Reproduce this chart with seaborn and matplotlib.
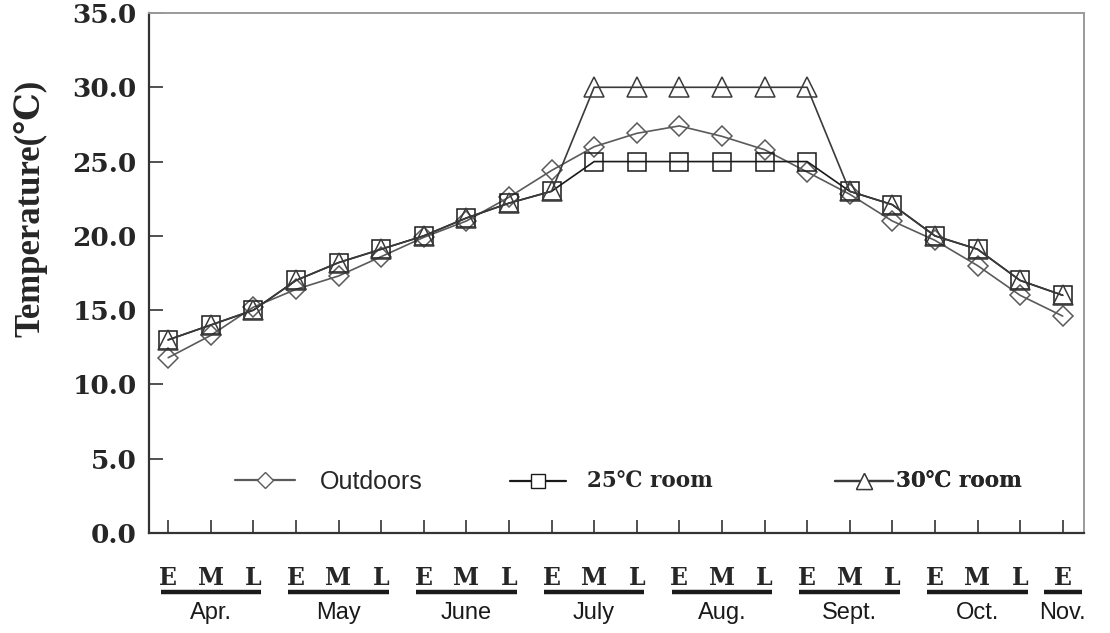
import matplotlib
matplotlib.use("Agg")
import matplotlib.pyplot as plt
import matplotlib.transforms as mtransforms
from matplotlib.lines import Line2D
import numpy as np
import pandas as pd
import seaborn as sns

# ---------------- data ----------------
period_labels = ["E", "M", "L"] * 7 + ["E"]
months = ["Apr.", "May", "June", "July", "Aug.", "Sept.", "Oct.", "Nov."]
month_counts = [3, 3, 3, 3, 3, 3, 3, 1]

outdoors = [11.8, 13.3, 15.2, 16.4, 17.3, 18.6, 19.9, 21.0, 22.6, 24.4, 26.0,
            26.9, 27.4, 26.7, 25.8, 24.3, 22.8, 21.0, 19.7, 18.0, 16.0, 14.6]
room25 = [13.0, 14.0, 15.0, 17.0, 18.2, 19.1, 20.0, 21.2, 22.2, 23.0, 25.0,
          25.0, 25.0, 25.0, 25.0, 25.0, 23.0, 22.1, 20.0, 19.1, 17.0, 16.0]
room30 = [13.0, 14.0, 15.0, 17.0, 18.2, 19.1, 20.0, 21.2, 22.2, 23.0, 30.0,
          30.0, 30.0, 30.0, 30.0, 30.0, 23.0, 22.1, 20.0, 19.1, 17.0, 16.0]
series_names = ["Outdoors", "25\u2103 room", "30\u2103 room"]
y_ticks = [0, 5, 10, 15, 20, 25, 30, 35]

# ---------------- style ----------------
sns.set_theme(style="white")
plt.rcParams["font.family"] = ["DejaVu Serif", "DejaVu Sans"]

SERIF_B = ["DejaVu Serif", "DejaVu Sans"]
SERIF_T = ["Liberation Serif", "DejaVu Serif", "DejaVu Sans"]
NARROW = ["Liberation Sans Narrow", "Liberation Sans", "DejaVu Sans"]

fig = plt.figure(figsize=(11.1, 6.33), dpi=100)
fig.patch.set_facecolor("white")
ax = fig.add_axes([149 / 1110, 1 - 533 / 633, (1084 - 149) / 1110, (533 - 13) / 633])
ax.set_facecolor("white")

x = np.arange(len(period_labels))
df = pd.DataFrame({"x": x, "Outdoors": outdoors, "r25": room25, "r30": room30})

styles = [
    ("Outdoors", "D", 10.5, "#5a5a5a", "#5a5a5a"),
    ("r25", "s", 12.5, "#1a1a1a", "#1a1a1a"),
    ("r30", "^", 15, "#3a3a3a", "#3a3a3a"),
]
for col, mk, ms, lc, mc in styles:
    sns.lineplot(data=df, x="x", y=col, ax=ax, color=lc, linewidth=1.2,
                 marker=mk, markersize=ms, markerfacecolor="none",
                 markeredgecolor=mc, markeredgewidth=1.1, clip_on=False)

ax.set_xlim(-0.45, len(x) - 0.5)
ax.set_ylim(0, 35)
ax.set_yticks(y_ticks)
ax.set_yticklabels([f"{v:.1f}" for v in y_ticks], fontfamily=SERIF_B,
                   fontweight="bold", fontsize=19)
ax.set_xticks(x)
ax.set_xticklabels(period_labels, fontfamily=SERIF_B, fontweight="bold", fontsize=17)
ax.tick_params(axis="y", direction="in", length=10, width=1.2, color="#333333",
               pad=9, left=True)
ax.tick_params(axis="x", direction="in", length=9.5, width=1.2, color="#333333",
               pad=24, bottom=True)
ax.set_xlabel("")

ax.set_ylabel("Temperature(\u2103)", fontfamily=SERIF_T, fontweight="bold",
              fontsize=25, va="center", ha="center")
ax.yaxis.set_label_coords(-0.127, 0.625)

for side in ["left", "bottom"]:
    ax.spines[side].set_color("#333333")
    ax.spines[side].set_linewidth(1.6)
for side in ["top", "right"]:
    ax.spines[side].set_color("#9a9a9a")
    ax.spines[side].set_linewidth(1.4)
    ax.spines[side].set_visible(True)

# ---------------- month groups ----------------
trans = mtransforms.blended_transform_factory(ax.transData, ax.transAxes)
start = 0
for name, cnt in zip(months, month_counts):
    idx = x[start:start + cnt]
    margin = 0.18 if cnt > 1 else 0.45
    ax.plot([idx[0] - margin, idx[-1] + margin], [-0.1135, -0.1135],
            transform=trans, color="#1a1a1a", linewidth=3.2, clip_on=False,
            solid_capstyle="butt")
    ax.text(idx.mean(), -0.153, name, transform=trans, ha="center", va="center",
            fontfamily=NARROW, fontsize=17, color="#1a1a1a")
    start += cnt

# ---------------- legends ----------------
leg_pos = [0.092, 0.386, 0.734]
leg_pad = [1.0, 1.0, 0.1]
leg_len = [2.4, 2.6, 2.7]
leg_font = [dict(family=NARROW, size=18),
            dict(family=SERIF_B, weight="bold", size=15.5),
            dict(family=SERIF_B, weight="bold", size=15.5)]
for (col, mk, ms, lc, mc), name, xp, pad, hl, fp in zip(styles, series_names,
                                                          leg_pos, leg_pad, leg_len,
                                                          leg_font):
    h = Line2D([], [], color=lc, linewidth=1.6, marker=mk, markersize=ms * 0.8,
               markerfacecolor="white", markeredgecolor=mc, markeredgewidth=1.0)
    leg = ax.legend([h], [name], loc="center left", bbox_to_anchor=(xp, 0.098),
                    frameon=False, handlelength=hl, handletextpad=pad,
                    borderpad=0, borderaxespad=0, prop=fp)
    ax.add_artist(leg)

fig.savefig("out.png", dpi=100, facecolor="white")
